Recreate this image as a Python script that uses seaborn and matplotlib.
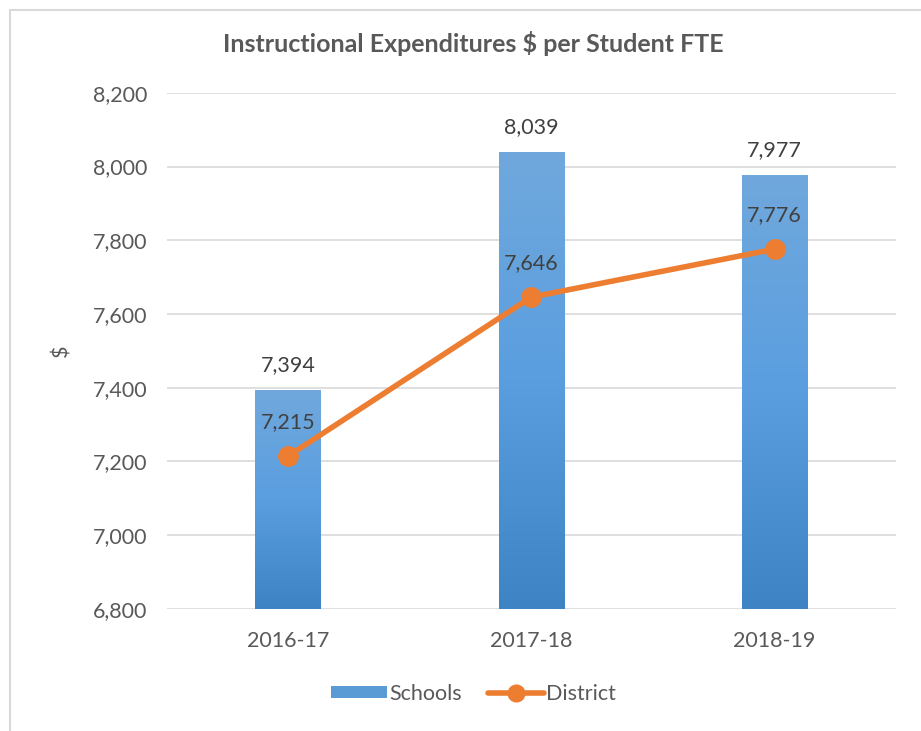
import numpy as np
import pandas as pd
import matplotlib
matplotlib.use('Agg')
import matplotlib.pyplot as plt
from matplotlib.patches import Rectangle, Patch
from matplotlib.lines import Line2D
import seaborn as sns

# --- data ---
years = ['2016-17', '2017-18', '2018-19']
schools = [7394, 8039, 7977]
district = [7215, 7646, 7776]
y_ticks = [6800, 7000, 7200, 7400, 7600, 7800, 8000, 8200]

bar_blue = '#5b9bd5'
line_orange = '#ed7d31'
text_grey = '#595959'

sns.set_theme(style='white')
plt.rcParams['font.family'] = ['Lato', 'DejaVu Sans']

df = pd.DataFrame({'year': years, 'Schools': schools, 'District': district})

fig = plt.figure(figsize=(9.21, 7.31), dpi=100)
ax = fig.add_axes([0.181, 0.167, 0.792, 0.706])

sns.barplot(data=df, x='year', y='Schools', color=bar_blue, width=0.27,
            saturation=1, ax=ax, zorder=2)

# vertical gradient on bars (lighter top, darker bottom)
grad = np.linspace(0, 1, 256).reshape(-1, 1)
cmap = matplotlib.colors.LinearSegmentedColormap.from_list(
    'b', ['#3e83c4', '#5a9ee0', '#70a8dc'])
for p in ax.patches:
    x0, y0 = p.get_x(), p.get_y()
    w, h = p.get_width(), p.get_height()
    im = ax.imshow(grad, cmap=cmap, aspect='auto', origin='lower',
                   extent=[x0, x0 + w, 6800, y0 + h], zorder=2)
    im.set_clip_path(p)
    p.set_facecolor('none')
    p.set_edgecolor('none')

sns.pointplot(data=df, x='year', y='District', color=line_orange, ax=ax,
              markers='o', markersize=12, linewidth=4, errorbar=None)
for ln in ax.lines:
    ln.set_zorder(4)

# value labels
for i, v in enumerate(schools):
    ax.annotate(f'{v:,}', (i, v), xytext=(0, 18), textcoords='offset points',
                ha='center', va='center', fontsize=15.5, color='#404040', zorder=5)
for i, v in enumerate(district):
    ax.annotate(f'{v:,}', (i, v), xytext=(0, 24.5), textcoords='offset points',
                ha='center', va='center', fontsize=15.5, color='#404040', zorder=5)

ax.set_ylim(6800, 8200)
ax.set_xlim(-0.5, 2.5)
ax.set_yticks(y_ticks)
ax.set_yticklabels([f'{t:,}' for t in y_ticks])
ax.yaxis.grid(True, color='#d9d9d9', linewidth=1.2, zorder=0)
ax.set_axisbelow(True)
for s in ax.spines.values():
    s.set_visible(False)
ax.tick_params(axis='y', labelsize=15.5, colors=text_grey, length=0, pad=14)
ax.tick_params(axis='x', labelsize=15.5, colors=text_grey, length=0, pad=16)
ax.set_xlabel('')
ax.set_ylabel('$', fontsize=15.5, color=text_grey, labelpad=15)

fig.text(0.514, 0.94, 'Instructional Expenditures $ per Student FTE',
         ha='center', va='center', fontsize=18, fontweight='bold', color=text_grey)

handles = [Patch(facecolor=bar_blue, edgecolor='none', label='Schools'),
           Line2D([0], [0], color=line_orange, linewidth=4, marker='o',
                  markersize=12, label='District')]
fig.legend(handles=handles, loc='center', bbox_to_anchor=(0.514, 0.051),
           ncol=2, frameon=False, fontsize=15.5, handlelength=2.6,
           handleheight=0.5, handletextpad=0.1, columnspacing=1.2,
           labelcolor=text_grey)

# chart border
fig.patches.append(Rectangle((0.011, -0.01), 1.2, 0.996, transform=fig.transFigure,
                             fill=False, edgecolor='#d9d9d9', linewidth=1.5))

fig.savefig('out.png', dpi=100)
